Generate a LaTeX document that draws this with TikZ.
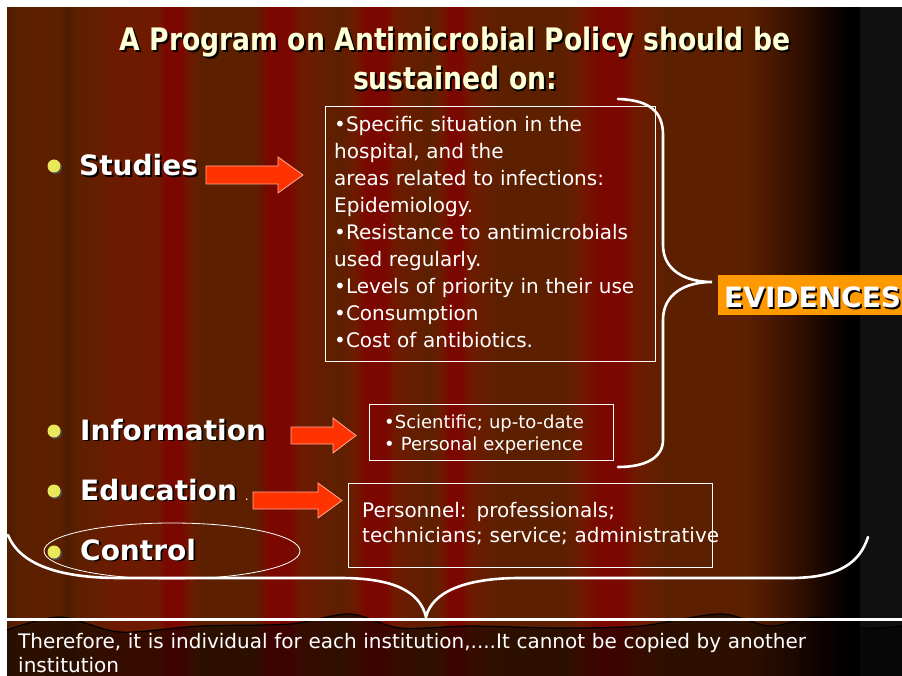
\documentclass[tikz,border=0pt]{standalone}
\usepackage{fontspec}
\setmainfont{DejaVu Sans}
\newfontfamily\hdfont[FakeStretch=0.86]{DejaVu Sans}
\usepackage{tikz}
\usetikzlibrary{positioning}

\definecolor{curtbr}{HTML}{5C2000}
\definecolor{curtrd}{HTML}{7A0800}
\definecolor{curtmd}{HTML}{6E1A00}
\definecolor{curtdk}{HTML}{4E1C00}
\definecolor{curtfa}{HTML}{3A1200}
\definecolor{curtbk}{HTML}{120400}
\definecolor{curtgr}{HTML}{101010}
\definecolor{arrowred}{HTML}{FF3300}
\definecolor{evorange}{HTML}{FF9900}
\definecolor{bulletyel}{HTML}{E8E85A}
\definecolor{titlecream}{HTML}{FFFFD8}

\newcommand\shad[1]{\rlap{\hspace{1.8pt}\raisebox{-1.8pt}{\color{black}#1}}#1}

\tikzset{
  txbox/.style={draw=white, line width=1.1pt, inner sep=0pt, anchor=north west},
  boxtext/.style={text=white, align=left, inner sep=0pt, anchor=base west,
    font=\fontsize{20}{26.9}\selectfont},
  itemtext/.style={text=white, inner sep=0pt, anchor=base west,
    font=\bfseries\fontsize{28}{32}\selectfont},
  titletext/.style={text=titlecream, inner sep=0pt, anchor=base,
    font=\hdfont\bfseries\fontsize{31}{38}\selectfont},
  barrow/.style={fill=arrowred, draw=arrowred!40!white, line width=0.8pt},
  bracket/.style={draw=white, line width=2.6pt, line cap=round},
}

\begin{document}
\begin{tikzpicture}[x=1pt,y=-1pt]
  \useasboundingbox (0,0) rectangle (902,676);
  \fill[white] (0,0) rectangle (902,676);
  % curtain
  \foreach \xa/\ca/\xb/\cb in {7/curtdk/20/curtbr, 20/curtbr/60/curtbr, 60/curtbr/67/curtdk,
      67/curtdk/76/curtbr, 76/curtbr/120/curtmd, 120/curtmd/158/curtmd, 158/curtmd/165/curtrd,
      165/curtrd/180/curtrd, 180/curtrd/190/curtmd, 190/curtmd/200/curtbr, 200/curtbr/255/curtbr,
      255/curtbr/268/curtrd, 268/curtrd/290/curtrd, 290/curtrd/300/curtmd, 300/curtmd/340/curtbr,
      340/curtbr/355/curtmd, 355/curtmd/365/curtrd, 365/curtrd/385/curtrd, 385/curtrd/395/curtmd,
      395/curtmd/430/curtbr, 430/curtbr/442/curtmd, 442/curtmd/448/curtrd, 448/curtrd/460/curtrd,
      460/curtrd/470/curtmd, 470/curtmd/500/curtbr, 500/curtbr/565/curtbr, 565/curtbr/578/curtmd,
      578/curtmd/600/curtrd, 600/curtrd/622/curtrd, 622/curtrd/635/curtmd, 635/curtmd/665/curtbr,
      665/curtbr/745/curtbr, 745/curtbr/790/curtfa, 790/curtfa/830/curtbk, 830/curtbk/850/black,
      850/black/860/black, 860/curtgr/902/curtgr} {
    \shade[left color=\ca, right color=\cb] (\xa,8) rectangle ({\xb+0.6},676);
  }
  % hem of the curtain
  \fill[black, opacity=0.5] plot[smooth] coordinates {(7,630) (60,617) (120,632) (200,626)
      (290,624) (350,614) (400,628) (470,626) (560,628) (640,626) (720,614) (770,626)
      (818,617) (860,628) (902,626)} -- (902,676) -- (7,676) -- cycle;
  \draw[black, line width=1.2pt] plot[smooth] coordinates {(7,630) (60,617) (120,632)
      (200,626) (290,624) (350,614) (400,628) (470,626) (560,628) (640,626) (720,614)
      (770,626) (818,617) (860,628) (902,626)};
  \draw[white, line width=2.5pt] (7,619.5) -- (902,619.5);

  % title
  \node[titletext] (title) at (455,51) {\shad{A Program on Antimicrobial Policy should be}};
  \node[titletext] (subtitle) at (455,90) {\shad{sustained on:}};

  % items
  \foreach \y in {166,431,491,552} {
    \fill[black!70] (55.5,\y+1.5) circle (6.5);
    \fill[bulletyel] (54,\y) circle (6.5);
  }
  \node[itemtext] (studies) at (79,176) {\shad{Studies}};
  \node[itemtext] (information) at (80,440) {\shad{Information}};
  \node[itemtext] (education) at (80,500) {\shad{Education}\hspace{8pt}{\mdseries\fontsize{12}{12}\selectfont .}};
  \node[itemtext] (control) at (80,560) {\shad{Control}};
  \draw[white, line width=0.8pt] (172,551) ellipse [x radius=128, y radius=28];

  % arrows
  \filldraw[barrow] (206,166) -- (278,166) -- (278,157) -- (303,175) -- (278,193) -- (278,184) -- (206,184) -- cycle;
  \filldraw[barrow] (291,427) -- (333,427) -- (333,418) -- (356,435.5) -- (333,453) -- (333,444) -- (291,444) -- cycle;
  \filldraw[barrow] (253,492) -- (318,492) -- (318,483) -- (342,500.5) -- (318,518) -- (318,509) -- (253,509) -- cycle;

  % boxes
  \node[txbox, minimum width=330, minimum height=255] (studbox) at (325,106) {};
  \node[boxtext, text width=320] (studtext) at (334,132) {%
    •Specific situation in the\\ hospital, and the\\ areas related to infections:\\
    Epidemiology.\\ •Resistance to antimicrobials\\ used regularly.\\
    •Levels of priority in their use\\ •Consumption\\ •Cost of antibiotics.};
  \node[txbox, minimum width=244, minimum height=56] (infobox) at (369,404) {};
  \node[boxtext, text width=230, font=\fontsize{18}{22}\selectfont] (infotext) at (384,428)
    {•Scientific; up-to-date\\ • Personal experience};
  \node[txbox, minimum width=364, minimum height=84] (edubox) at (348,483) {};
  \node[boxtext, text width=400, font=\fontsize{20}{25}\selectfont] (edutext) at (362,517)
    {Personnel: professionals;\\ technicians; service; administrative};

  % braces
  \draw[bracket] (618,99) .. controls (650,100) and (663,112) .. (663,135) -- (663,245)
    .. controls (663,270) and (685,282) .. (712,282)
    .. controls (685,282) and (663,294) .. (663,320) -- (663,440)
    .. controls (663,458) and (645,467) .. (618,467);
  \draw[bracket] (8,535) .. controls (20,565) and (60,578) .. (120,578) -- (340,578)
    .. controls (395,578) and (420,592) .. (426,617)
    .. controls (432,592) and (465,578) .. (520,578) -- (790,578)
    .. controls (840,578) and (860,562) .. (868,537);

  % evidences
  \node[fill=evorange, minimum width=200, minimum height=40, inner sep=0pt, anchor=north west] (evbox) at (718,275) {};
  \node[text=white, inner sep=0pt, anchor=base west, font=\bfseries\fontsize{28}{32}\selectfont] (evidences) at (724,308) {\shad{EVIDENCES}};

  % conclusion
  \node[boxtext, text width=860, font=\fontsize{20}{24}\selectfont] (concl) at (18,648)
    {Therefore, it is individual for each institution,....It cannot be copied by another\\ institution};
\end{tikzpicture}
\end{document}
